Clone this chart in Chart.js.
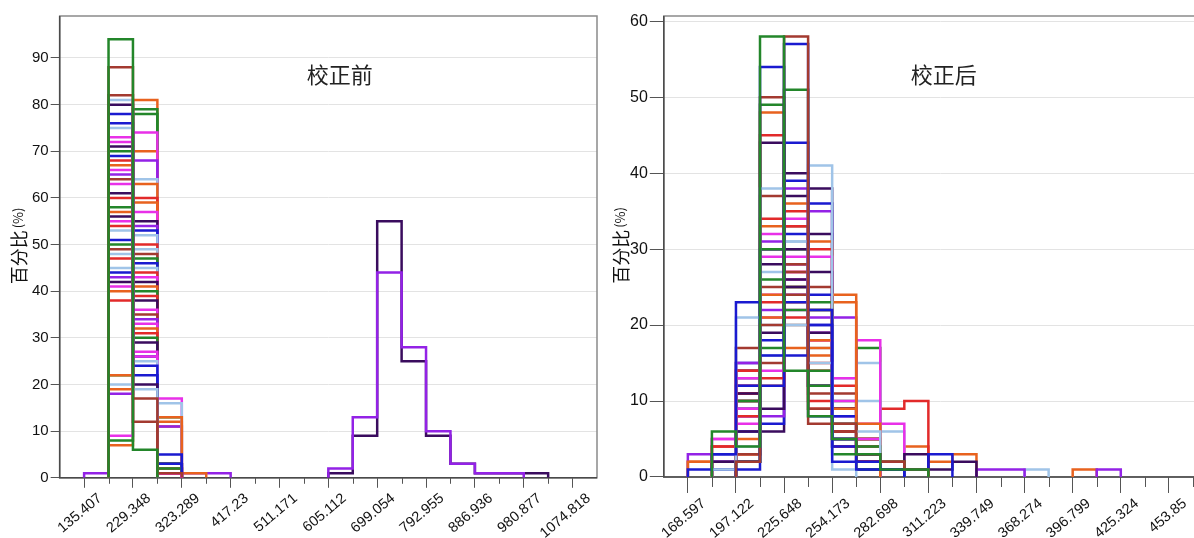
<!DOCTYPE html>
<html lang="zh">
<head>
<meta charset="UTF-8">
<title>校正前 / 校正后</title>
<style>
  html, body { margin: 0; padding: 0; background: #fff; overflow: hidden; width: 1194px; height: 538px; }
  .panel { position: absolute; top: 0; height: 538px; }
  #left { left: 0; width: 600px; }
  #right { left: 600px; width: 630px; }
</style>
</head>
<body>
<div class="panel" id="left"><canvas id="beforeChart" width="600" height="538"></canvas></div>
<div class="panel" id="right"><canvas id="afterChart" width="630" height="538"></canvas></div>

<script src="https://cdn.jsdelivr.net/npm/chart.js"></script>
<script>
// ---- data ----
// bins start at the first tick label, each bin is half a label step wide
const beforeBinStart = 135.407;
const beforeBinWidth = 46.9705;
const beforeTickLabels = ['135.407', '229.348', '323.289', '417.23', '511.171', '605.112',
  '699.054', '792.955', '886.936', '980.877', '1074.818'];

// percent per bin, bin 0 = 135.407 .. 182.38 (first series is drawn on top)
const beforeSeries = [
  [0, 0, 0, 0, 0, 0, 0, 0, 0, 0, 2, 13, 44, 28, 10, 3, 1, 1],
  [0, 0, 0, 0, 0, 0, 0, 0, 0, 0, 1, 9, 55, 25, 9, 3, 1, 1, 1],
  [0, 94, 6], [0, 88, 12], [0, 82, 17, 1], [0, 81, 19], [0, 80, 20], [0, 78, 22],
  [0, 76, 24], [0, 75, 25], [0, 73, 26, 1], [0, 72, 27, 1], [0, 71, 29], [0, 70, 30],
  [0, 69, 26, 5], [0, 68, 31, 1], [0, 67, 32, 1], [0, 66, 33, 1], [0, 65, 34, 1], [0, 64, 35, 1],
  [0, 63, 36, 1], [0, 61, 38, 1], [0, 60, 39, 1], [0, 58, 40, 2], [0, 57, 41, 2], [0, 56, 42, 2],
  [0, 55, 43, 2], [0, 54, 44, 2], [0, 53, 45, 2], [0, 51, 46, 3], [0, 50, 47, 3], [0, 49, 48, 3],
  [0, 48, 49, 3], [0, 47, 50, 3], [0, 45, 52, 3], [0, 44, 53, 3], [0, 43, 54, 3], [0, 42, 55, 3],
  [0, 41, 57, 2], [0, 40, 59, 1], [0, 38, 60, 2], [0, 22, 63, 13, 1], [0, 20, 64, 16],
  [1, 18, 68, 11, 1, 1], [0, 9, 74, 17], [0, 19, 70, 11], [0, 8, 79, 13], [0, 22, 78], [0, 7, 81, 12]
];

const afterBinStart = 168.597;
const afterBinWidth = 14.26265;
const afterTickLabels = ['168.597', '197.122', '225.648', '254.173', '282.698', '311.223',
  '339.749', '368.274', '396.799', '425.324', '453.85'];

// percent per bin, bin 0 = 168.597 .. 182.86
const afterSeries = [
  [0, 6, 4, 58, 14, 8, 5, 3, 1, 1],
  [0, 0, 2, 20, 58, 7, 7, 3, 2, 1],
  [1, 3, 23, 16, 44, 8, 2, 1, 1, 1, 3],
  [0, 0, 1, 54, 16, 20, 5, 3, 1],
  [0, 0, 2, 12, 57, 22, 4, 2, 1],
  [0, 1, 21, 16, 20, 41, 1],
  [0, 0, 4, 38, 31, 15, 5, 6, 1],
  [0, 0, 2, 30, 51, 12, 3, 1, 1],
  [0, 0, 3, 50, 28, 9, 6, 3, 1],
  [0, 0, 2, 49, 22, 14, 7, 4, 2],
  [2, 0, 3, 48, 17, 14, 9, 4, 2, 1],
  [0, 4, 14, 45, 21, 9, 4, 2, 1],
  [0, 2, 6, 44, 25, 12, 5, 2, 1, 3, 1, 2],
  [0, 0, 17, 37, 27, 11, 5, 2, 1],
  [3, 2, 15, 31, 28, 12, 4, 2, 1, 0, 0, 0, 1, 1, 0, 0, 0, 1],
  [0, 0, 2, 21, 28, 18, 24, 7],
  [0, 0, 8, 34, 33, 15, 6, 3, 1],
  [0, 5, 13, 32, 29, 12, 5, 3, 1],
  [0, 1, 12, 30, 23, 20, 8, 4, 1, 1],
  [0, 0, 9, 29, 27, 18, 10, 5, 2],
  [0, 2, 11, 28, 26, 19, 9, 4, 1],
  [0, 0, 10, 26, 25, 23, 10, 5, 1],
  [0, 0, 12, 25, 24, 22, 11, 5, 1],
  [0, 0, 10, 24, 23, 17, 23, 2, 1],
  [0, 4, 11, 23, 25, 18, 12, 5, 2],
  [0, 0, 9, 22, 24, 21, 21, 3],
  [0, 0, 7, 21, 22, 19, 13, 18],
  [0, 0, 13, 20, 20, 19, 13, 15],
  [0, 0, 14, 19, 30, 27, 6, 3, 1],
  [0, 3, 15, 18, 32, 24, 5, 2, 1],
  [0, 0, 9, 17, 30, 22, 5, 17],
  [0, 0, 13, 15, 33, 25, 9, 4, 1],
  [0, 0, 12, 14, 34, 29, 7, 3, 1],
  [0, 0, 14, 13, 35, 30, 5, 2, 1],
  [0, 0, 11, 12, 36, 31, 6, 3, 1],
  [0, 0, 10, 9, 37, 38, 4, 1, 1],
  [0, 0, 8, 8, 38, 35, 8, 2, 1],
  [0, 0, 6, 7, 39, 36, 9, 2, 1],
  [0, 0, 10, 6, 40, 32, 9, 2, 1],
  [0, 0, 3, 30, 27, 10, 6, 5, 9, 10],
  [0, 5, 8, 24, 26, 14, 9, 7, 7],
  [0, 1, 2, 27, 31, 17, 5, 10, 6, 1, 0, 0, 0, 0, 1],
  [2, 1, 5, 33, 20, 16, 9, 5, 1, 4, 2, 3, 0, 0, 0, 0, 1]
];

// ---- styles ----
const palette = {
  G: '#23862a', B: '#a33a30', U: '#1a1ad0', D: '#3a0c5e', M: '#e830e8',
  L: '#a0c4e8', O: '#e8621e', R: '#e22a2a', P: '#9322e6'
};
const beforeColors = ['P', 'D',
  'G', 'B', 'B', 'L', 'D', 'U', 'U', 'L', 'M', 'M', 'D', 'G', 'U', 'R', 'O', 'M', 'P', 'B',
  'M', 'D', 'R', 'G', 'O', 'D', 'M', 'R', 'L', 'U', 'G', 'B', 'L', 'R', 'L', 'U', 'P', 'D', 'M', 'O', 'R',
  'O', 'L', 'P', 'M', 'O', 'G', 'G', 'O'];
const afterColors = ['G', 'B', 'U', 'U', 'U', 'L', 'L', 'G', 'B', 'G', 'O', 'R', 'D', 'B', 'P', 'O', 'R', 'M',
  'U', 'M', 'D', 'G', 'B', 'O', 'R', 'P', 'M', 'L', 'D', 'U', 'G', 'B', 'M', 'R', 'O', 'D', 'P', 'U', 'D',
  'R', 'M', 'L', 'O'];

const FONT = '"Liberation Sans", Arial, sans-serif';
const CJK = '"Noto Sans CJK SC", sans-serif';

// outline of one histogram; empty bins break the line
function histPoints(values, start, width) {
  const pts = [];
  let k = 0;
  while (k < values.length) {
    if (!values[k]) { k++; continue; }
    pts.push({ x: start + k * width, y: 0 });
    while (k < values.length && values[k]) {
      pts.push({ x: start + k * width, y: values[k] });
      k++;
    }
    pts.push({ x: start + k * width, y: 0 });
    pts.push({ x: start + k * width, y: null });
  }
  return pts;
}

const framePlugin = {
  id: 'frame',
  beforeDatasetsDraw(chart) {
    const { ctx, chartArea: a } = chart;
    ctx.save();
    ctx.lineWidth = 1.5;
    ctx.strokeStyle = '#8a8a8a';
    ctx.strokeRect(a.left, a.top, a.right - a.left, a.bottom - a.top);
    ctx.strokeStyle = '#4a4a4a';
    ctx.beginPath();
    ctx.moveTo(a.left, a.top);
    ctx.lineTo(a.left, a.bottom);
    ctx.lineTo(a.right, a.bottom);
    ctx.stroke();
    ctx.restore();
  }
};

const labelPlugin = {
  id: 'panelText',
  afterDraw(chart, args, opts) {
    const { ctx, chartArea: a } = chart;
    ctx.save();
    // panel caption
    ctx.fillStyle = '#222';
    ctx.font = '22px ' + CJK;
    ctx.textAlign = 'center';
    ctx.textBaseline = 'middle';
    ctx.fillText(opts.caption, a.left + 280, a.top + 59);
    // y title: 百分比 big, (%) small
    const cy = (a.top + a.bottom) / 2;
    ctx.translate(opts.titleX, cy);
    ctx.rotate(-Math.PI / 2);
    ctx.fillStyle = '#111';
    ctx.font = '18px ' + CJK;
    const w1 = ctx.measureText('百分比').width;
    ctx.font = '13px ' + CJK;
    const w2 = ctx.measureText('(%)').width;
    ctx.textAlign = 'left';
    ctx.font = '18px ' + CJK;
    ctx.fillText('百分比', -(w1 + w2) / 2, 0);
    ctx.font = '13px ' + CJK;
    ctx.fillText('(%)', -(w1 + w2) / 2 + w1 + 2, -1);
    ctx.restore();
  }
};

const minorTickPlugin = {
  id: 'minorTicks',
  afterDraw(chart, args, opts) {
    const { ctx, chartArea: a, scales } = chart;
    const x = scales.x;
    ctx.save();
    ctx.strokeStyle = '#555';
    ctx.lineWidth = 1;
    x.ticks.forEach((t, i) => {
      if (i % 2 === 1) {
        const px = Math.round(x.getPixelForValue(t.value)) + 0.5;
        ctx.beginPath();
        ctx.moveTo(px, a.bottom);
        ctx.lineTo(px, a.bottom + opts.length);
        ctx.stroke();
      }
    });
    ctx.restore();
  }
};

function makePanel(id, cfg) {
  const edges = [];
  for (let k = 0; k <= cfg.lastEdge; k++) edges.push(cfg.start + k * cfg.width);
  const datasets = cfg.series.map((vals, i) => ({
    data: histPoints(vals, cfg.start, cfg.width),
    borderColor: palette[cfg.colors[i]],
    borderWidth: 2.5,
    pointRadius: 0,
    stepped: 'before',
    spanGaps: false,
    fill: false
  }));
  return new Chart(document.getElementById(id), {
    type: 'line',
    data: { datasets },
    plugins: [framePlugin, minorTickPlugin, labelPlugin],
    options: {
      responsive: false,
      animation: false,
      events: [],
      layout: { padding: cfg.padding },
      plugins: {
        legend: { display: false },
        tooltip: { enabled: false },
        panelText: { caption: cfg.caption, titleX: cfg.titleX },
        minorTicks: { length: cfg.minorTick }
      },
      scales: {
        x: {
          type: 'linear',
          min: cfg.start - cfg.width,
          max: cfg.start + (cfg.lastEdge + 1) * cfg.width,
          afterBuildTicks: axis => { axis.ticks = edges.map(v => ({ value: v })); },
          border: { display: false },
          grid: {
            drawOnChartArea: false,
            tickLength: cfg.majorTick,
            tickColor: c => (c.index % 2 === 0 ? '#555' : 'rgba(0,0,0,0)')
          },
          ticks: {
            autoSkip: false,
            minRotation: 40,
            maxRotation: 40,
            padding: 2,
            labelOffset: 16,
            color: '#111',
            font: { family: FONT, size: 14.5 },
            callback: (v, i) => (i % 2 === 0 ? cfg.labels[i / 2] : '')
          }
        },
        y: {
          min: 0,
          max: cfg.yMax,
          border: { display: false },
          grid: { color: '#e3e3e3', tickColor: '#555', tickLength: cfg.yTick },
          ticks: {
            stepSize: 10,
            includeBounds: false,
            padding: 2,
            color: '#111',
            font: { family: FONT, size: cfg.yFont }
          }
        }
      }
    }
  });
}

makePanel('beforeChart', {
  start: beforeBinStart, width: beforeBinWidth, lastEdge: 20,
  series: beforeSeries, colors: beforeColors, labels: beforeTickLabels,
  yMax: 99, caption: '校正前', titleX: 19, yFont: 15, yTick: 9, majorTick: 10, minorTick: 6,
  padding: { left: 30, right: 3, top: 16, bottom: -6 }
});

makePanel('afterChart', {
  start: afterBinStart, width: afterBinWidth, lastEdge: 21,
  series: afterSeries, colors: afterColors, labels: afterTickLabels,
  yMax: 60.7, caption: '校正后', titleX: 21, yFont: 16, yTick: 14, majorTick: 16, minorTick: 10,
  padding: { left: 28, right: 13, top: 16, bottom: -6 }
});
</script>
</body>
</html>
